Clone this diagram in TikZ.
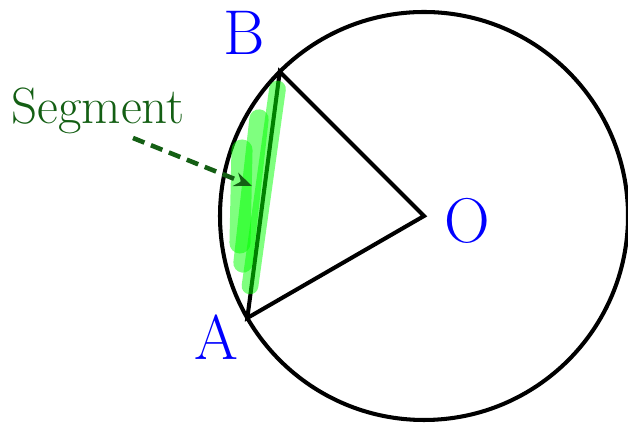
\documentclass[tikz,border=0pt]{standalone}
\usepackage{xcolor}
\usepackage{tikz}
\usetikzlibrary{arrows.meta,positioning,calc}

\definecolor{segGreen}{RGB}{20,95,20}
\definecolor{markGreen}{RGB}{0,255,0}

\begin{document}
\begin{tikzpicture}[
    ptlabel/.style={blue, font=\fontsize{36}{40}\selectfont},
    marker/.style={markGreen, opacity=0.5, line cap=round},
    edge/.style={line width=2.3pt}
  ]
  \useasboundingbox (0,0) rectangle (12.56,8.5);

  % Circle and points
  \coordinate (O) at (8.48,4.18);
  \coordinate (B) at ($(O)+(135:4.08)$);
  \coordinate (A) at ($(O)+(210:4.08)$);
  \draw[edge] (O) circle (4.08);

  % Triangle
  \draw[edge, line join=miter] (B) -- (O) -- (A) -- cycle;

  % Highlighted segment
  \draw[marker, line width=9.5pt] (5.55,6.72) -- (5.00,2.78);
  \draw[marker, line width=11pt] (5.18,6.12) -- (4.86,3.24);
  \draw[marker, line width=12pt] (4.84,5.50) -- (4.80,3.64);

  % Labels
  \node[ptlabel] (labB) at (4.88,7.84) {B};
  \node[ptlabel] (labA) at (4.32,1.76) {A};
  \node[ptlabel] (labO) at (9.34,4.08) {O};

  % Arrow to the segment
  \node[segGreen, font=\fontsize{29}{32}\selectfont] (seg) at (1.96,6.28) {Segment};
  \coordinate (segtail) at (2.66,5.74);
  \coordinate (segtip) at (5.04,4.78);
  \draw[segGreen, line width=2.6pt, dash pattern=on 7pt off 4pt,
        -{Stealth[length=10pt,width=8pt]}] (segtail) -- (segtip);
\end{tikzpicture}
\end{document}
